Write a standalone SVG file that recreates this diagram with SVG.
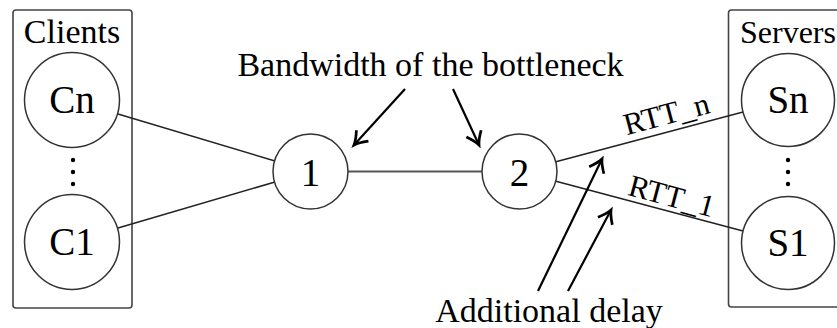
<svg xmlns="http://www.w3.org/2000/svg" width="837" height="328" viewBox="0 0 837 328" font-family="'Liberation Serif', 'Times New Roman', Tinos, 'DejaVu Serif', serif">
<style>
text{font-family:'Liberation Serif','Times New Roman',Tinos,'DejaVu Serif',serif;fill:#000}
.lbl{font-size:34px}
.nd{font-size:39px;text-anchor:middle}
.rtt{font-size:31px;text-anchor:middle}
.box{fill:none;stroke:#444;stroke-width:1.6}
.node{fill:#fff;stroke:#333;stroke-width:1.5}
.link{stroke:#222;stroke-width:1.5;fill:none}
.arr{stroke:#000;stroke-width:2.2;fill:none;marker-end:url(#ah)}
.dot{fill:#000}
</style>
<defs>
<marker id="ah" markerUnits="userSpaceOnUse" markerWidth="20" markerHeight="20" refX="0" refY="0" viewBox="-12 -8 14 16" orient="auto">
<path d="M-10,-6.5 Q-4,-1.5 0,0 Q-4,1.5 -10,6.5" fill="none" stroke="#000" stroke-width="2.2"/>
</marker>
</defs>
<g id="clients">
<rect class="box" x="13" y="10" width="119" height="298" rx="3"/>
<text class="lbl" x="72" y="43" text-anchor="middle">Clients</text>
<circle class="dot" cx="73" cy="160" r="2.2"/>
<circle class="dot" cx="73" cy="172" r="2.2"/>
<circle class="dot" cx="73" cy="184" r="2.2"/>
</g>
<g id="servers">
<rect class="box" x="728.5" y="10" width="130" height="297" rx="3"/>
<text x="740" y="43" font-size="32">Servers</text>
<circle class="dot" cx="788" cy="160" r="2.2"/>
<circle class="dot" cx="788" cy="172" r="2.2"/>
<circle class="dot" cx="788" cy="184" r="2.2"/>
</g>
<g id="connectors">
<line class="link" x1="118" y1="114" x2="275" y2="161"/>
<line class="link" x1="118" y1="228" x2="275" y2="182"/>
<line x1="348" y1="171.5" x2="482" y2="171.5" stroke="#555" stroke-width="2"/>
<line class="link" x1="555" y1="162" x2="743" y2="112"/>
<line class="link" x1="555" y1="181" x2="743" y2="231"/>
<path class="arr" d="M405,89 L354,145"/>
<path class="arr" d="M453,89 L479,145"/>
<path class="arr" d="M538,291 L602,159"/>
<path class="arr" d="M568,291 L611,210"/>
</g>
<g id="Cn"><circle class="node" cx="72" cy="100" r="47.5"/><text class="nd" x="72" y="113">Cn</text></g>
<g id="C1"><circle class="node" cx="72" cy="242" r="47.5"/><text class="nd" x="72" y="255">C1</text></g>
<g id="n1"><circle class="node" cx="310.5" cy="171.5" r="37.5"/><text class="nd" x="310.5" y="186">1</text></g>
<g id="n2"><circle class="node" cx="519.5" cy="171.5" r="37.5"/><text class="nd" x="519.5" y="186">2</text></g>
<g id="Sn"><circle class="node" cx="788" cy="100" r="46.5"/><text class="nd" x="788" y="113">Sn</text></g>
<g id="S1"><circle class="node" cx="788" cy="243" r="46.5"/><text class="nd" x="788" y="256">S1</text></g>
<g id="labels">
<text class="lbl" x="430.5" y="76" text-anchor="middle">Bandwidth of the bottleneck</text>
<text class="lbl" x="549" y="322" text-anchor="middle">Additional delay</text>
<text class="rtt" transform="translate(669,124) rotate(-15)">RTT_n</text>
<text class="rtt" transform="translate(669,206) rotate(15)">RTT_1</text>
</g>
</svg>
